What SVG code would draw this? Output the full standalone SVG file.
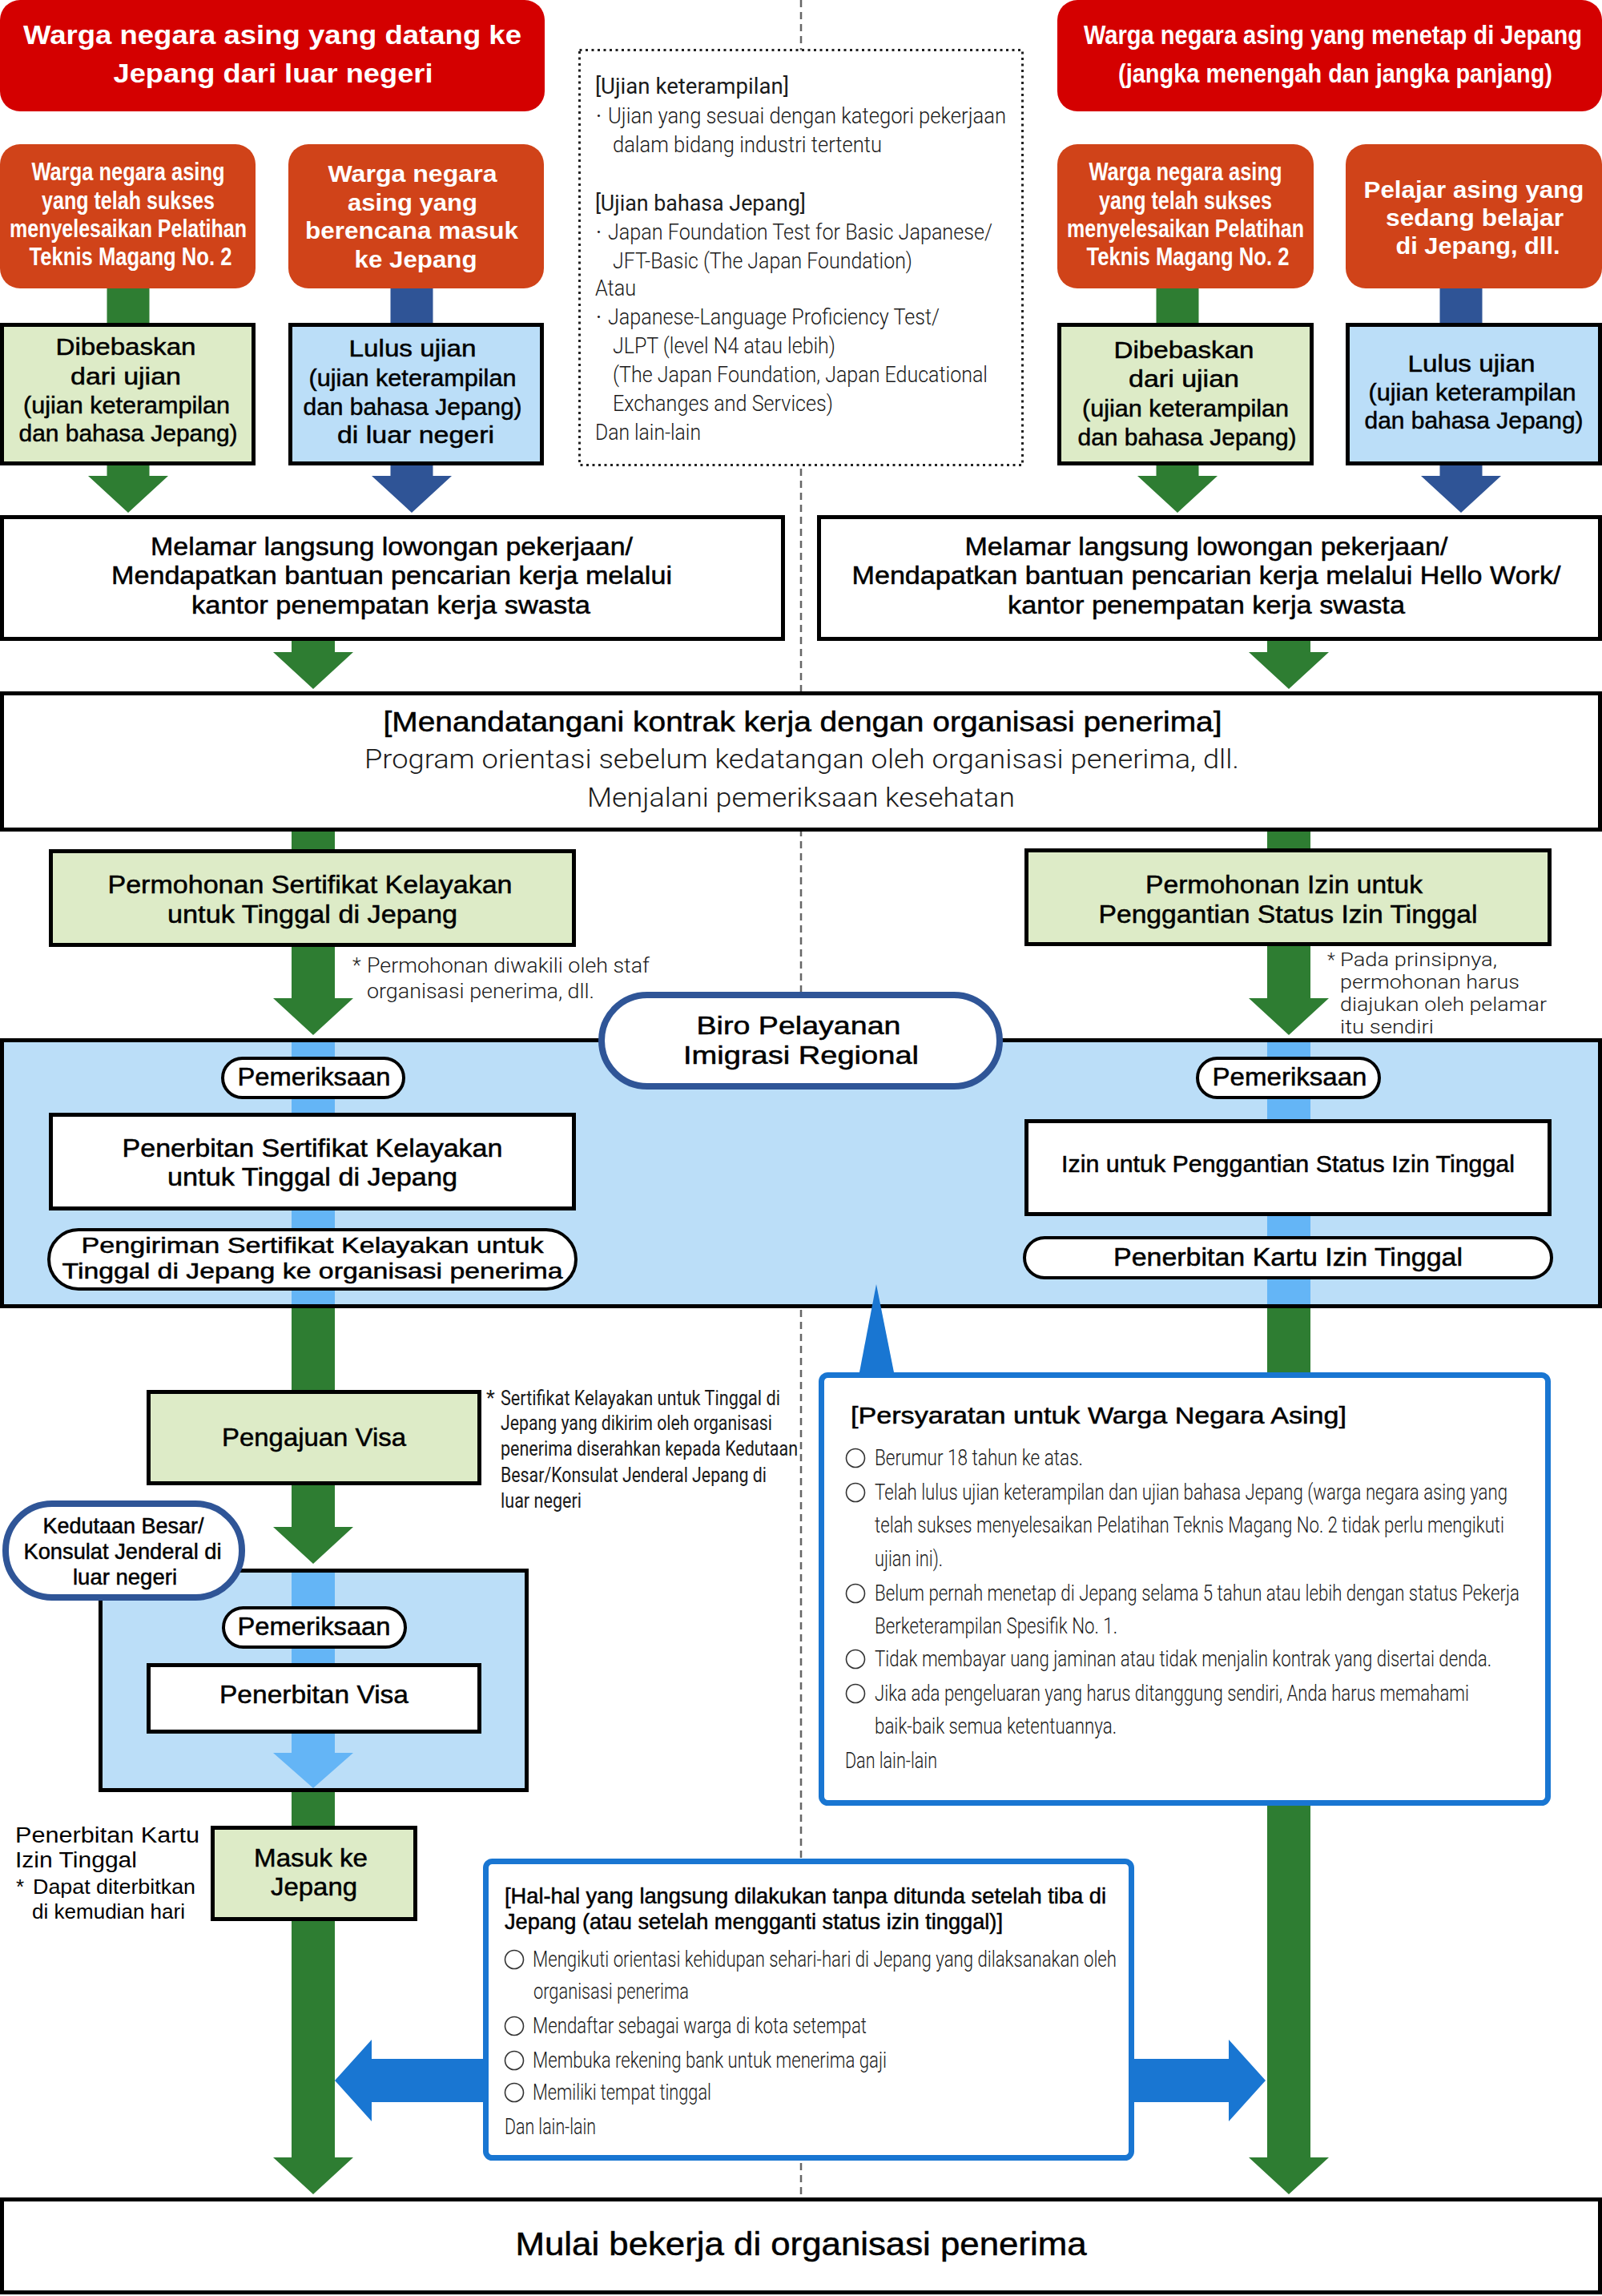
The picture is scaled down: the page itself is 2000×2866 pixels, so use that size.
<svg xmlns="http://www.w3.org/2000/svg" width="2000" height="2866" viewBox="0 0 2000 2866">
<style>
text{font-family:"Liberation Sans",Arial,sans-serif;fill:#000}
.c{text-anchor:middle}
.w{fill:#fff;font-weight:700}
.wn{fill:#fff;font-weight:700}
.m{font-weight:400;stroke:#000;stroke-width:0.5}
.mn{font-weight:400;stroke:#000;stroke-width:0.5}
.l{font-family:Roboto,"Liberation Sans",sans-serif;font-weight:300;fill:#1a1a1a}
.n{font-family:Roboto,"Liberation Sans",sans-serif;font-weight:300;fill:#1a1a1a}
.r{font-family:Roboto,"Liberation Sans",sans-serif;font-weight:400;fill:#1a1a1a}
.red{fill:#D40000}
.org{fill:#D04319}
.box{fill:#fff;stroke:#000;stroke-width:5}
.gb{fill:#DDEBC7;stroke:#000;stroke-width:5}
.bb{fill:#BBDEF8;stroke:#000;stroke-width:5}
.pill{fill:#fff;stroke:#000;stroke-width:4}
.navy{fill:#fff;stroke:#2F5597;stroke-width:8}
.call{fill:#fff;stroke:#1976D2;stroke-width:7}
.g{fill:#2E7D32}
.db{fill:#2F5496}
.lb{fill:#64B5F6}
.cb{fill:#1976D2}
.bul{fill:none;stroke:#333;stroke-width:1.6}
.f23{font-size:23px}.f25{font-size:25px}.f26{font-size:26px}.f27{font-size:27px}.f28{font-size:28px}.f29{font-size:29px}.f30{font-size:30px}.f31{font-size:31px}.f32{font-size:32px}.f33{font-size:33px}.f34{font-size:34px}.f35{font-size:35px}.f36{font-size:36px}.f40{font-size:40px}
</style>

<g id="divider">
<line x1="1000" y1="0" x2="1000" y2="2743" stroke="#666" stroke-width="2.5" stroke-dasharray="9 6"/>
</g>

<g id="region-biro">
<rect class="bb" x="2.5" y="1298.5" width="1995" height="332"/>
<rect class="navy" x="751" y="1242" width="497" height="114" rx="57"/>
<text class="c m f32" x="997" y="1291" textLength="255" lengthAdjust="spacingAndGlyphs">Biro Pelayanan</text>
<text class="c m f32" x="1000" y="1328" textLength="294" lengthAdjust="spacingAndGlyphs">Imigrasi Regional</text>
</g>

<g id="region-visa">
<rect class="bb" x="125.5" y="1960.5" width="532" height="274"/>
<rect class="navy" x="7" y="1877" width="295" height="117" rx="58"/>
<text class="c mn f28" x="154" y="1914" textLength="201" lengthAdjust="spacingAndGlyphs">Kedutaan Besar/</text>
<text class="c mn f28" x="153" y="1946" textLength="247" lengthAdjust="spacingAndGlyphs">Konsulat Jenderal di</text>
<text class="c mn f28" x="156" y="1978" textLength="130" lengthAdjust="spacingAndGlyphs">luar negeri</text>
</g>

<g id="connectors">
<path class="g" d="M133.5 350H186.5V594H210L160 640L110 594H133.5Z"/>
<path class="db" d="M487.5 350H540.5V594H564L514 640L464 594H487.5Z"/>
<path class="g" d="M1443.5 350H1496.5V594H1520L1470 640L1420 594H1443.5Z"/>
<path class="db" d="M1797.5 350H1850.5V594H1874L1824 640L1774 594H1797.5Z"/>
<path class="g" d="M364 795H418V814H441L391 860L341 814H364Z"/>
<path class="g" d="M1582 795H1636V814H1659L1609 860L1559 814H1582Z"/>
<path class="g" d="M364 1035H418V1246H441L391 1292L341 1246H364Z"/>
<path class="g" d="M1582 1035H1636V1246H1659L1609 1292L1559 1246H1582Z"/>
<rect class="lb" x="364" y="1301" width="54" height="327"/>
<rect class="lb" x="1582" y="1301" width="54" height="327"/>
<path class="g" d="M364 1633H418V1906H441L391 1952L341 1906H364Z"/>
<path class="lb" d="M364 1963H418V2188H441L391 2232L341 2188H364Z"/>
<path class="g" d="M364 2237H418V2693H441L391 2739L341 2693H364Z"/>
<path class="g" d="M1582 1633H1636V2693H1659L1609 2739L1559 2693H1582Z"/>
<path class="cb" d="M606 2570H464V2546L418 2597L464 2648V2624H606Z"/>
<path class="cb" d="M1413 2570H1534V2546L1580 2597L1534 2648V2624H1413Z"/>
</g>

<g id="origin-abroad">
<rect class="red" x="0" y="0" width="680" height="139" rx="25"/>
<text class="c w f34" x="340" y="55" textLength="622" lengthAdjust="spacingAndGlyphs">Warga negara asing yang datang ke</text>
<text class="c w f34" x="341" y="103" textLength="399" lengthAdjust="spacingAndGlyphs">Jepang dari luar negeri</text>
</g>

<g id="origin-resident">
<rect class="red" x="1320" y="0" width="680" height="139" rx="25"/>
<text class="c wn" font-size="27" transform="translate(1664 55) scale(1 1.26)" textLength="622" lengthAdjust="spacingAndGlyphs">Warga negara asing yang menetap di Jepang</text>
<text class="c wn" font-size="27" transform="translate(1667 103) scale(1 1.26)" textLength="542" lengthAdjust="spacingAndGlyphs">(jangka menengah dan jangka panjang)</text>
</g>

<g id="trainee-abroad">
<rect class="org" x="0" y="180" width="319" height="180" rx="25"/>
<text class="c wn f31" x="160" y="225" textLength="241" lengthAdjust="spacingAndGlyphs">Warga negara asing</text>
<text class="c wn f31" x="160" y="261" textLength="216" lengthAdjust="spacingAndGlyphs">yang telah sukses</text>
<text class="c wn f31" x="160" y="296" textLength="296" lengthAdjust="spacingAndGlyphs">menyelesaikan Pelatihan</text>
<text class="c wn f31" x="163" y="331" textLength="253" lengthAdjust="spacingAndGlyphs">Teknis Magang No. 2</text>
</g>

<g id="newcomer-abroad">
<rect class="org" x="360" y="180" width="319" height="180" rx="25"/>
<text class="c w f30" x="515" y="227" textLength="211" lengthAdjust="spacingAndGlyphs">Warga negara</text>
<text class="c w f30" x="515" y="263" textLength="162" lengthAdjust="spacingAndGlyphs">asing yang</text>
<text class="c w f30" x="514" y="298" textLength="266" lengthAdjust="spacingAndGlyphs">berencana masuk</text>
<text class="c w f30" x="519" y="334" textLength="153" lengthAdjust="spacingAndGlyphs">ke Jepang</text>
</g>

<g id="trainee-resident">
<rect class="org" x="1320" y="180" width="320" height="180" rx="25"/>
<text class="c wn f31" x="1480" y="225" textLength="241" lengthAdjust="spacingAndGlyphs">Warga negara asing</text>
<text class="c wn f31" x="1480" y="261" textLength="216" lengthAdjust="spacingAndGlyphs">yang telah sukses</text>
<text class="c wn f31" x="1480" y="296" textLength="296" lengthAdjust="spacingAndGlyphs">menyelesaikan Pelatihan</text>
<text class="c wn f31" x="1483" y="331" textLength="253" lengthAdjust="spacingAndGlyphs">Teknis Magang No. 2</text>
</g>

<g id="student-resident">
<rect class="org" x="1680" y="180" width="320" height="180" rx="25"/>
<text class="c w f30" x="1840" y="247" textLength="275" lengthAdjust="spacingAndGlyphs">Pelajar asing yang</text>
<text class="c w f30" x="1841" y="282" textLength="222" lengthAdjust="spacingAndGlyphs">sedang belajar</text>
<text class="c w f30" x="1845" y="317" textLength="205" lengthAdjust="spacingAndGlyphs">di Jepang, dll.</text>
</g>

<g id="exempt-abroad">
<rect class="gb" x="2.5" y="405.5" width="314" height="173"/>
<text class="c m f30" x="157" y="443" textLength="175" lengthAdjust="spacingAndGlyphs">Dibebaskan</text>
<text class="c m f30" x="157" y="480" textLength="138" lengthAdjust="spacingAndGlyphs">dari ujian</text>
<text class="c m f30" x="158" y="516" textLength="258" lengthAdjust="spacingAndGlyphs">(ujian keterampilan</text>
<text class="c m f30" x="160" y="551" textLength="273" lengthAdjust="spacingAndGlyphs">dan bahasa Jepang)</text>
</g>

<g id="pass-abroad">
<rect class="bb" x="362.5" y="405.5" width="314" height="173"/>
<text class="c m f30" x="515" y="445" textLength="159" lengthAdjust="spacingAndGlyphs">Lulus ujian</text>
<text class="c m f30" x="515" y="482" textLength="259" lengthAdjust="spacingAndGlyphs">(ujian keterampilan</text>
<text class="c m f30" x="515" y="518" textLength="273" lengthAdjust="spacingAndGlyphs">dan bahasa Jepang)</text>
<text class="c m f30" x="519" y="553" textLength="196" lengthAdjust="spacingAndGlyphs">di luar negeri</text>
</g>

<g id="exempt-resident">
<rect class="gb" x="1322.5" y="405.5" width="315" height="173"/>
<text class="c m f30" x="1478" y="447" textLength="175" lengthAdjust="spacingAndGlyphs">Dibebaskan</text>
<text class="c m f30" x="1478" y="483" textLength="138" lengthAdjust="spacingAndGlyphs">dari ujian</text>
<text class="c m f30" x="1480" y="520" textLength="258" lengthAdjust="spacingAndGlyphs">(ujian keterampilan</text>
<text class="c m f30" x="1482" y="556" textLength="273" lengthAdjust="spacingAndGlyphs">dan bahasa Jepang)</text>
</g>

<g id="pass-resident">
<rect class="bb" x="1682.5" y="405.5" width="315" height="173"/>
<text class="c m f30" x="1837" y="464" textLength="159" lengthAdjust="spacingAndGlyphs">Lulus ujian</text>
<text class="c m f30" x="1838" y="500" textLength="259" lengthAdjust="spacingAndGlyphs">(ujian keterampilan</text>
<text class="c m f30" x="1840" y="535" textLength="273" lengthAdjust="spacingAndGlyphs">dan bahasa Jepang)</text>
</g>

<g id="exam-info">
<rect x="723.5" y="62.5" width="553" height="518" fill="#fff" stroke="#222" stroke-width="3" stroke-dasharray="3 4.5"/>
<text class="r f27" x="743" y="117" textLength="242" lengthAdjust="spacingAndGlyphs">[Ujian keterampilan]</text>
<text class="r f27" x="744" y="154">·</text>
<text class="n f27" x="759" y="154" textLength="497" lengthAdjust="spacingAndGlyphs">Ujian yang sesuai dengan kategori pekerjaan</text>
<text class="n f27" x="765" y="190" textLength="336" lengthAdjust="spacingAndGlyphs">dalam bidang industri tertentu</text>
<text class="r f27" x="743" y="263" textLength="263" lengthAdjust="spacingAndGlyphs">[Ujian bahasa Jepang]</text>
<text class="r f27" x="744" y="299">·</text>
<text class="n f27" x="759" y="299" textLength="480" lengthAdjust="spacingAndGlyphs">Japan Foundation Test for Basic Japanese/</text>
<text class="n f27" x="765" y="335" textLength="374" lengthAdjust="spacingAndGlyphs">JFT-Basic (The Japan Foundation)</text>
<text class="n f27" x="743" y="369" textLength="51" lengthAdjust="spacingAndGlyphs">Atau</text>
<text class="r f27" x="744" y="405">·</text>
<text class="n f27" x="759" y="405" textLength="414" lengthAdjust="spacingAndGlyphs">Japanese-Language Proficiency Test/</text>
<text class="n f27" x="765" y="441" textLength="278" lengthAdjust="spacingAndGlyphs">JLPT (level N4 atau lebih)</text>
<text class="n f27" x="765" y="477" textLength="468" lengthAdjust="spacingAndGlyphs">(The Japan Foundation, Japan Educational</text>
<text class="n f27" x="765" y="513" textLength="275" lengthAdjust="spacingAndGlyphs">Exchanges and Services)</text>
<text class="n f27" x="743" y="549" textLength="132" lengthAdjust="spacingAndGlyphs">Dan lain-lain</text>
</g>

<g id="jobsearch-abroad">
<rect class="box" x="2.5" y="645.5" width="975" height="152"/>
<text class="c m f31" x="489" y="693" textLength="602" lengthAdjust="spacingAndGlyphs">Melamar langsung lowongan pekerjaan/</text>
<text class="c m f31" x="489" y="729" textLength="700" lengthAdjust="spacingAndGlyphs">Mendapatkan bantuan pencarian kerja melalui</text>
<text class="c m f31" x="488" y="766" textLength="498" lengthAdjust="spacingAndGlyphs">kantor penempatan kerja swasta</text>
</g>

<g id="jobsearch-resident">
<rect class="box" x="1022.5" y="645.5" width="975" height="152"/>
<text class="c m f31" x="1506" y="693" textLength="603" lengthAdjust="spacingAndGlyphs">Melamar langsung lowongan pekerjaan/</text>
<text class="c m f31" x="1506" y="729" textLength="885" lengthAdjust="spacingAndGlyphs">Mendapatkan bantuan pencarian kerja melalui Hello Work/</text>
<text class="c m f31" x="1506" y="766" textLength="496" lengthAdjust="spacingAndGlyphs">kantor penempatan kerja swasta</text>
</g>

<g id="contract">
<rect class="box" x="2.5" y="865.5" width="1995" height="170"/>
<text class="c m f35" x="1002" y="913" textLength="1047" lengthAdjust="spacingAndGlyphs">[Menandatangani kontrak kerja dengan organisasi penerima]</text>
<text class="c l f33" x="1001" y="959" textLength="1092" lengthAdjust="spacingAndGlyphs">Program orientasi sebelum kedatangan oleh organisasi penerima, dll.</text>
<text class="c l f33" x="1000" y="1007" textLength="534" lengthAdjust="spacingAndGlyphs">Menjalani pemeriksaan kesehatan</text>
</g>

<g id="coe-application">
<rect class="gb" x="63.5" y="1062.5" width="653" height="117"/>
<text class="c m f31" x="387" y="1115" textLength="505" lengthAdjust="spacingAndGlyphs">Permohonan Sertifikat Kelayakan</text>
<text class="c m f31" x="390" y="1152" textLength="362" lengthAdjust="spacingAndGlyphs">untuk Tinggal di Jepang</text>
</g>

<g id="note-coe">
<text class="l f25" x="440" y="1214">*</text>
<text class="l f25" x="458" y="1214" textLength="353" lengthAdjust="spacingAndGlyphs">Permohonan diwakili oleh staf</text>
<text class="l f25" x="458" y="1246" textLength="284" lengthAdjust="spacingAndGlyphs">organisasi penerima, dll.</text>
</g>

<g id="change-application">
<rect class="gb" x="1281.5" y="1061.5" width="653" height="117"/>
<text class="c m f31" x="1603" y="1115" textLength="346" lengthAdjust="spacingAndGlyphs">Permohonan Izin untuk</text>
<text class="c m f31" x="1608" y="1152" textLength="473" lengthAdjust="spacingAndGlyphs">Penggantian Status Izin Tinggal</text>
</g>

<g id="note-change">
<text class="l f23" x="1657" y="1206">*</text>
<text class="l f23" x="1673" y="1206" textLength="196" lengthAdjust="spacingAndGlyphs">Pada prinsipnya,</text>
<text class="l f23" x="1673" y="1234" textLength="224" lengthAdjust="spacingAndGlyphs">permohonan harus</text>
<text class="l f23" x="1673" y="1262" textLength="258" lengthAdjust="spacingAndGlyphs">diajukan oleh pelamar</text>
<text class="l f23" x="1673" y="1290" textLength="117" lengthAdjust="spacingAndGlyphs">itu sendiri</text>
</g>

<g id="exam-coe">
<rect class="pill" x="278" y="1321" width="226" height="49" rx="24.5"/>
<text class="c m f31" x="392" y="1355" textLength="191" lengthAdjust="spacingAndGlyphs">Pemeriksaan</text>
</g>

<g id="coe-issue">
<rect class="box" x="63.5" y="1391.5" width="653" height="117"/>
<text class="c m f31" x="390" y="1444" textLength="475" lengthAdjust="spacingAndGlyphs">Penerbitan Sertifikat Kelayakan</text>
<text class="c m f31" x="390" y="1480" textLength="362" lengthAdjust="spacingAndGlyphs">untuk Tinggal di Jepang</text>
</g>

<g id="coe-send">
<rect class="pill" x="61" y="1535" width="658" height="74" rx="37"/>
<text class="c m f28" x="390" y="1564" textLength="577" lengthAdjust="spacingAndGlyphs">Pengiriman Sertifikat Kelayakan untuk</text>
<text class="c m f28" x="390" y="1596" textLength="625" lengthAdjust="spacingAndGlyphs">Tinggal di Jepang ke organisasi penerima</text>
</g>

<g id="exam-change">
<rect class="pill" x="1495" y="1321" width="227" height="49" rx="24.5"/>
<text class="c m f31" x="1610" y="1355" textLength="193" lengthAdjust="spacingAndGlyphs">Pemeriksaan</text>
</g>

<g id="change-permit">
<rect class="box" x="1281.5" y="1399.5" width="653" height="116"/>
<text class="c m f30" x="1608" y="1463" textLength="566" lengthAdjust="spacingAndGlyphs">Izin untuk Penggantian Status Izin Tinggal</text>
</g>

<g id="card-issue-resident">
<rect class="pill" x="1279" y="1545" width="658" height="50" rx="25"/>
<text class="c m f31" x="1608" y="1580" textLength="436" lengthAdjust="spacingAndGlyphs">Penerbitan Kartu Izin Tinggal</text>
</g>

<g id="visa-application">
<rect class="gb" x="185.5" y="1737.5" width="413" height="114"/>
<text class="c m f32" x="392" y="1805" textLength="230" lengthAdjust="spacingAndGlyphs">Pengajuan Visa</text>
</g>

<g id="note-visa">
<text class="r f25" x="607" y="1754">*</text>
<text class="r" font-size="20" transform="translate(625 1754) scale(1 1.25)" textLength="349" lengthAdjust="spacingAndGlyphs">Sertifikat Kelayakan untuk Tinggal di</text>
<text class="r" font-size="20" transform="translate(625 1785) scale(1 1.25)" textLength="339" lengthAdjust="spacingAndGlyphs">Jepang yang dikirim oleh organisasi</text>
<text class="r" font-size="20" transform="translate(625 1817) scale(1 1.25)" textLength="371" lengthAdjust="spacingAndGlyphs">penerima diserahkan kepada Kedutaan</text>
<text class="r" font-size="20" transform="translate(625 1850) scale(1 1.25)" textLength="332" lengthAdjust="spacingAndGlyphs">Besar/Konsulat Jenderal Jepang di</text>
<text class="r" font-size="20" transform="translate(625 1882) scale(1 1.25)" textLength="101" lengthAdjust="spacingAndGlyphs">luar negeri</text>
</g>

<g id="exam-visa">
<rect class="pill" x="279" y="2007" width="227" height="49" rx="24.5"/>
<text class="c m f31" x="392" y="2041" textLength="191" lengthAdjust="spacingAndGlyphs">Pemeriksaan</text>
</g>

<g id="visa-issue">
<rect class="box" x="185.5" y="2078.5" width="413" height="83"/>
<text class="c m f32" x="392" y="2126" textLength="236" lengthAdjust="spacingAndGlyphs">Penerbitan Visa</text>
</g>

<g id="entry">
<rect class="gb" x="265.5" y="2281.5" width="253" height="114"/>
<text class="c m f32" x="388" y="2330" textLength="142" lengthAdjust="spacingAndGlyphs">Masuk ke</text>
<text class="c m f32" x="392" y="2366" textLength="108" lengthAdjust="spacingAndGlyphs">Jepang</text>
</g>

<g id="note-entry">
<text class="f27" x="19" y="2300" textLength="230" lengthAdjust="spacingAndGlyphs">Penerbitan Kartu</text>
<text class="f27" x="19" y="2331" textLength="152" lengthAdjust="spacingAndGlyphs">Izin Tinggal</text>
<text class="f26" x="20" y="2364">*</text>
<text class="f26" x="41" y="2364" textLength="203" lengthAdjust="spacingAndGlyphs">Dapat diterbitkan</text>
<text class="f26" x="40" y="2395" textLength="191" lengthAdjust="spacingAndGlyphs">di kemudian hari</text>
</g>

<g id="requirements">
<rect class="call" x="1025.5" y="1716.5" width="907" height="534" rx="8"/>
<path class="cb" d="M1072 1718L1094 1603L1117 1718Z"/>
<text class="m f30" x="1062" y="1777" textLength="619" lengthAdjust="spacingAndGlyphs">[Persyaratan untuk Warga Negara Asing]</text>
<circle class="bul" cx="1068" cy="1820" r="11.5"/>
<text class="n" font-size="20" transform="translate(1092 1829) scale(1 1.4)" textLength="260" lengthAdjust="spacingAndGlyphs">Berumur 18 tahun ke atas.</text>
<circle class="bul" cx="1068" cy="1863" r="11.5"/>
<text class="n" font-size="20" transform="translate(1092 1872) scale(1 1.4)" textLength="790" lengthAdjust="spacingAndGlyphs">Telah lulus ujian keterampilan dan ujian bahasa Jepang (warga negara asing yang</text>
<text class="n" font-size="20" transform="translate(1092 1913) scale(1 1.4)" textLength="786" lengthAdjust="spacingAndGlyphs">telah sukses menyelesaikan Pelatihan Teknis Magang No. 2 tidak perlu mengikuti</text>
<text class="n" font-size="20" transform="translate(1092 1955) scale(1 1.4)" textLength="85" lengthAdjust="spacingAndGlyphs">ujian ini).</text>
<circle class="bul" cx="1068" cy="1989" r="11.5"/>
<text class="n" font-size="20" transform="translate(1092 1998) scale(1 1.4)" textLength="805" lengthAdjust="spacingAndGlyphs">Belum pernah menetap di Jepang selama 5 tahun atau lebih dengan status Pekerja</text>
<text class="n" font-size="20" transform="translate(1092 2039) scale(1 1.4)" textLength="303" lengthAdjust="spacingAndGlyphs">Berketerampilan Spesifik No. 1.</text>
<circle class="bul" cx="1068" cy="2071" r="11.5"/>
<text class="n" font-size="20" transform="translate(1092 2080) scale(1 1.4)" textLength="770" lengthAdjust="spacingAndGlyphs">Tidak membayar uang jaminan atau tidak menjalin kontrak yang disertai denda.</text>
<circle class="bul" cx="1068" cy="2114" r="11.5"/>
<text class="n" font-size="20" transform="translate(1092 2123) scale(1 1.4)" textLength="742" lengthAdjust="spacingAndGlyphs">Jika ada pengeluaran yang harus ditanggung sendiri, Anda harus memahami</text>
<text class="n" font-size="20" transform="translate(1092 2164) scale(1 1.4)" textLength="302" lengthAdjust="spacingAndGlyphs">baik-baik semua ketentuannya.</text>
<text class="n" font-size="20" transform="translate(1055 2207) scale(1 1.4)" textLength="115" lengthAdjust="spacingAndGlyphs">Dan lain-lain</text>
</g>

<g id="after-arrival">
<rect class="call" x="606.5" y="2323.5" width="806" height="370" rx="8"/>
<text class="mn f28" x="630" y="2376" textLength="751" lengthAdjust="spacingAndGlyphs">[Hal-hal yang langsung dilakukan tanpa ditunda setelah tiba di</text>
<text class="mn f28" x="630" y="2408" textLength="622" lengthAdjust="spacingAndGlyphs">Jepang (atau setelah mengganti status izin tinggal)]</text>
<circle class="bul" cx="642" cy="2446" r="11.5"/>
<text class="n f27" x="665" y="2455" textLength="729" lengthAdjust="spacingAndGlyphs">Mengikuti orientasi kehidupan sehari-hari di Jepang yang dilaksanakan oleh</text>
<text class="n f27" x="666" y="2495" textLength="194" lengthAdjust="spacingAndGlyphs">organisasi penerima</text>
<circle class="bul" cx="642" cy="2529" r="11.5"/>
<text class="n f27" x="665" y="2538" textLength="417" lengthAdjust="spacingAndGlyphs">Mendaftar sebagai warga di kota setempat</text>
<circle class="bul" cx="642" cy="2572" r="11.5"/>
<text class="n f27" x="665" y="2581" textLength="442" lengthAdjust="spacingAndGlyphs">Membuka rekening bank untuk menerima gaji</text>
<circle class="bul" cx="642" cy="2612" r="11.5"/>
<text class="n f27" x="665" y="2621" textLength="223" lengthAdjust="spacingAndGlyphs">Memiliki tempat tinggal</text>
<text class="n f27" x="630" y="2664" textLength="114" lengthAdjust="spacingAndGlyphs">Dan lain-lain</text>
</g>

<g id="start-work">
<rect class="box" x="2.5" y="2745.5" width="1995" height="116"/>
<text class="c m f40" x="1000" y="2815" textLength="713" lengthAdjust="spacingAndGlyphs">Mulai bekerja di organisasi penerima</text>
</g>
</svg>
